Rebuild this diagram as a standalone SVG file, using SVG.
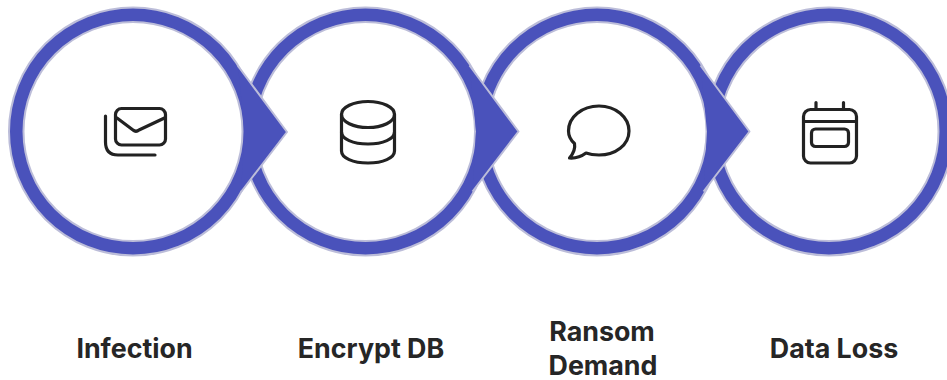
<svg xmlns="http://www.w3.org/2000/svg" width="947" height="380" viewBox="0 0 947 380">
  <style>
    .outer{fill:#4a52bb;stroke:#bcbdd9;stroke-width:2}
    .inner{fill:#fff;stroke:#bcbdd9;stroke-width:2}
    .head{fill:#4a52bb;stroke:none}
    .edge{fill:none;stroke:#bcbdd9;stroke-width:2;stroke-linejoin:round}
    .icon{fill:none;stroke:#222;stroke-width:3.200;stroke-linecap:round;stroke-linejoin:round}
    .label{font-family:Inter,"Liberation Sans",sans-serif;font-weight:700;font-size:26.800px;fill:#262626;text-anchor:middle}
  </style>
  <rect width="947" height="380" fill="#fff"/>
  <g id="rings">
    <g id="ring-4"><circle class="outer" cx="829" cy="131.500" r="124"/><circle class="inner" cx="829" cy="131.500" r="109.500"/></g>
    <g id="ring-3"><circle class="outer" cx="597" cy="131.500" r="124"/><circle class="inner" cx="597" cy="131.500" r="109.500"/></g>
    <g id="ring-2"><circle class="outer" cx="365.500" cy="131.500" r="124"/><circle class="inner" cx="365.500" cy="131.500" r="109.500"/></g>
    <g id="ring-1"><circle class="outer" cx="133" cy="131.500" r="124"/><circle class="inner" cx="133" cy="131.500" r="109.500"/></g>
  </g>
  <g id="connectors">
    <g id="arrow-1"><path class="head" d="M238 66L287 132L241 192L244.500 132Z"/><path class="edge" d="M238 66L287 132L241 192"/></g>
    <g id="arrow-2" transform="translate(231.500 -0.500)"><path class="head" d="M238 66L287 132L241 192L244.500 132Z"/><path class="edge" d="M238 66L287 132L241 192"/></g>
    <g id="arrow-3" transform="translate(462.500 -0.500)"><path class="head" d="M238 66L287 132L241 192L244.500 132Z"/><path class="edge" d="M238 66L287 132L241 192"/></g>
  </g>
  <g id="node-infection">
    <rect class="icon" x="115.500" y="108.500" width="50" height="36.500" rx="6"/>
    <path class="icon" d="M117 118L133 130Q136 132.500 139 130L164.500 118"/>
    <path class="icon" d="M105.500 116V142Q105.500 155 118 155H155"/>
    <text class="label" x="134.500" y="358">Infection</text>
  </g>
  <g id="node-encrypt">
    <ellipse class="icon" cx="368" cy="114.500" rx="26.500" ry="13"/>
    <path class="icon" d="M341.500 114.500V151C341.500 158 353 163 368 163S394.500 158 394.500 151V114.500"/>
    <path class="icon" d="M341.500 132C341.500 139 353 144 368 144S394.500 139 394.500 132"/>
    <text class="label" x="371" y="358">Encrypt DB</text>
  </g>
  <g id="node-ransom">
    <path class="icon" d="M599 106C615.500 106 629 117 629 131C629 145 615.500 155 599 155C594 155 590 154.500 586 153C582 156 576 158.500 569.500 158C573 154 575.500 149 574.500 143.500C570.500 140 568.500 135.500 568.500 131C568.500 117 582 106 599 106Z"/>
    <text class="label" x="602" y="341">Ransom</text>
    <text class="label" x="603" y="375">Demand</text>
  </g>
  <g id="node-dataloss">
    <rect class="icon" x="803.500" y="109.500" width="53" height="53.500" rx="7"/>
    <path class="icon" d="M803.500 121.500H856.500M816 102.500V109.500M843.500 102.500V109.500"/>
    <rect class="icon" x="811.500" y="129" width="37" height="17.500" rx="4"/>
    <text class="label" x="834" y="358">Data Loss</text>
  </g>
</svg>
